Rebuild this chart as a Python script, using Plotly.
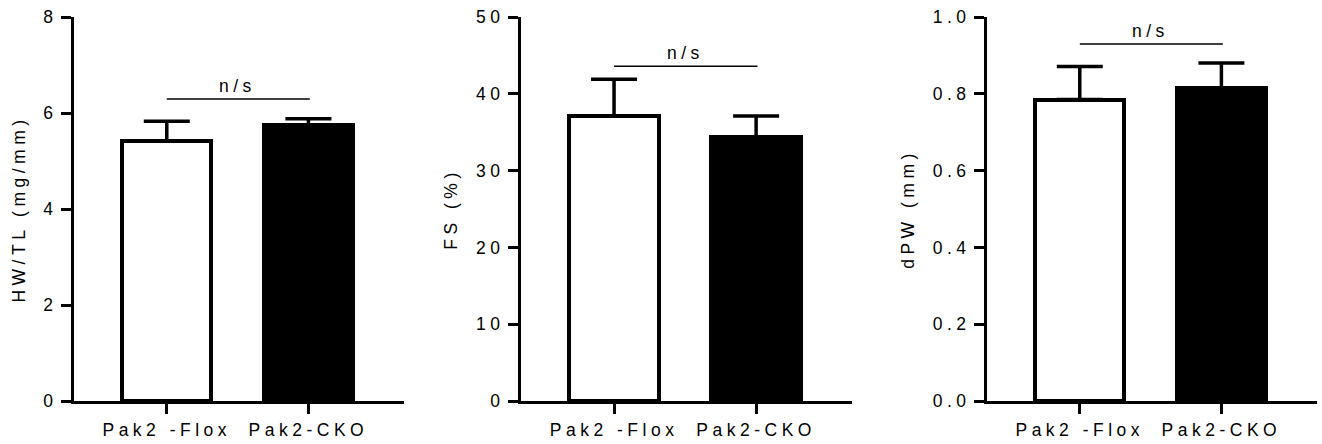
import plotly.graph_objects as go

# ---------------- data ----------------
categories = ["Pak2 -Flox", "Pak2-CKO"]

hw_tl_mean = [5.42, 5.75]
hw_tl_err = [0.41, 0.13]

fs_mean = [37.1, 34.4]
fs_err = [4.8, 2.7]

dpw_mean = [0.785, 0.815]
dpw_err = [0.086, 0.065]

y_titles = ["HW/TL (mg/mm)", "FS (%)", "dPW (mm)"]
y_ranges = [[0, 8], [0, 50], [0, 1.0]]
y_tickvals = [[0, 2, 4, 6, 8], [0, 10, 20, 30, 40, 50], [0.0, 0.2, 0.4, 0.6, 0.8, 1.0]]
y_ticktext = [["0", "2", "4", "6", "8"],
              ["0", "10", "20", "30", "40", "50"],
              ["0.0", "0.2", "0.4", "0.6", "0.8", "1.0"]]
sig_label = "n/s"
sig_level = [6.29, 43.6, 0.93]

means = [hw_tl_mean, fs_mean, dpw_mean]
errs = [hw_tl_err, fs_err, dpw_err]

# ---------------- style ----------------
FONT = "Liberation Sans, Arial, sans-serif"
FS = 17.5
LS = 4.5  # letter spacing px


def sp(t):
    return '<span style="letter-spacing:%.1fpx">%s</span>' % (LS, t)


W, H = 1322, 444
ml, mr, mt, mb = 74, 5, 17, 43
pw = W - ml - mr
px_domains = [(74, 404), (521, 852), (987, 1317)]
domains = [[(a - ml) / pw, (b - ml) / pw] for a, b in px_domains]

fig = go.Figure()
xpos = list(range(len(categories)))

for i in range(3):
    xa = "x" if i == 0 else "x%d" % (i + 1)
    ya = "y" if i == 0 else "y%d" % (i + 1)
    fig.add_trace(go.Bar(
        x=xpos, y=means[i], width=0.63,
        marker=dict(color=["white", "black"], line=dict(color="black", width=4)),
        error_y=dict(type="data", array=errs[i], arrayminus=[0, 0], symmetric=False,
                     color="black", thickness=3.5, width=23),
        xaxis=xa, yaxis=ya, showlegend=False, hoverinfo="skip",
    ))
    axkey = "xaxis" if i == 0 else "xaxis%d" % (i + 1)
    aykey = "yaxis" if i == 0 else "yaxis%d" % (i + 1)
    fig.layout[axkey] = dict(
        domain=domains[i], range=[-0.655, 1.675], anchor=ya,
        tickvals=xpos, ticktext=[sp(c) for c in categories],
        showline=True, linewidth=3, linecolor="black",
        ticks="outside", ticklen=10, tickwidth=3, tickcolor="black",
        showgrid=False, zeroline=False, ticklabelstandoff=1,
        tickfont=dict(family=FONT, size=FS, color="black"),
    )
    fig.layout[aykey] = dict(
        domain=[0, 1], range=y_ranges[i], anchor=xa,
        tickvals=y_tickvals[i], ticktext=[sp(t) for t in y_ticktext[i]],
        showline=True, linewidth=3, linecolor="black",
        ticks="outside", ticklen=10, tickwidth=3, tickcolor="black",
        showgrid=False, zeroline=False,
        tickfont=dict(family=FONT, size=FS, color="black"),
        title=dict(text=sp(y_titles[i]), font=dict(family=FONT, size=FS, color="black"),
                   standoff=14),
    )
    fig.add_shape(type="line", xref=xa, yref=ya, x0=0, x1=1.01,
                  y0=sig_level[i], y1=sig_level[i],
                  line=dict(color="black", width=1.5))
    fig.add_annotation(xref=xa, yref=ya, x=0.5, y=sig_level[i], text=sp(sig_label),
                       showarrow=False, yanchor="bottom", yshift=1,
                       font=dict(family=FONT, size=FS, color="black"))

fig.update_layout(
    width=W, height=H,
    margin=dict(l=ml, r=mr, t=mt, b=mb, pad=0),
    paper_bgcolor="white", plot_bgcolor="white",
    bargap=0, showlegend=False,
)

fig.write_html("out.html", config={"displayModeBar": False},
               post_script="document.body.style.margin='0px';document.body.style.padding='0px';")
